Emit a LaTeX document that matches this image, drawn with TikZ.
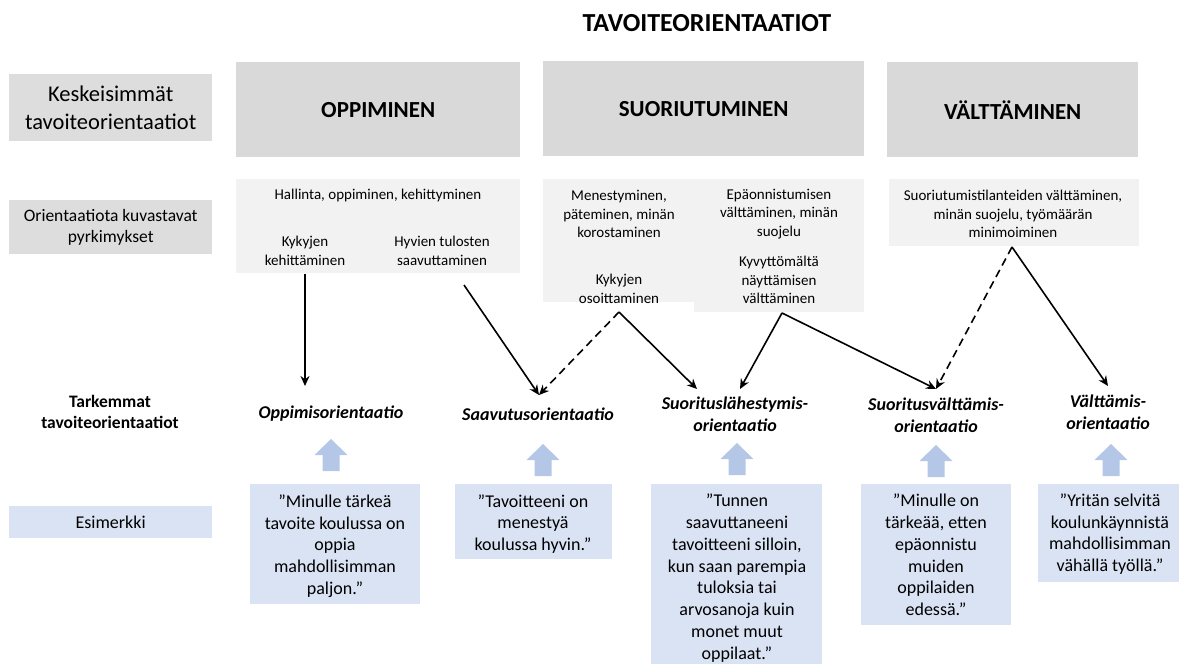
\documentclass[tikz,border=0pt]{standalone}
\usepackage{fontspec}
\setmainfont{Carlito}
\usetikzlibrary{arrows.meta}
\definecolor{hdrgray}{HTML}{D9D9D9}
\definecolor{lblgray}{HTML}{DDDDDD}
\definecolor{subgray}{HTML}{F2F2F2}
\definecolor{exblue}{HTML}{DAE3F3}
\definecolor{arrblue}{HTML}{B4C7E7}
\newcommand{\blockup}[2]{\fill[blockarr] (#1,#2) -- (#1+16.5,#2+16) -- (#1+8.5,#2+16) -- (#1+8.5,#2+32) -- (#1-8.5,#2+32) -- (#1-8.5,#2+16) -- (#1-16.5,#2+16) -- cycle;}
\begin{document}
\begin{tikzpicture}[x=1pt,y=-1pt,
  hdrbox/.style={fill=hdrgray, inner sep=0pt, anchor=north west, font=\bfseries\fontsize{23}{27}\selectfont},
  lblbox/.style={fill=lblgray, inner sep=0pt, anchor=north west, align=center},
  subbox/.style={fill=subgray, inner sep=0pt, anchor=north west},
  subtxt/.style={align=center, inner sep=0pt, font=\fontsize{15}{18.5}\selectfont},
  orient/.style={align=center, inner sep=0pt, font=\bfseries\itshape\fontsize{18}{21.5}\selectfont},
  exbox/.style={fill=exblue, inner sep=0pt, anchor=north west},
  extxt/.style={align=center, inner sep=0pt, font=\fontsize{18}{21.8}\selectfont},
  conn/.style={line width=1.6pt, -{Stealth[length=10pt,width=9pt]}},
  dconn/.style={conn, dash pattern=on 8pt off 5pt},
  blockarr/.style={fill=arrblue}
]
\useasboundingbox (0,0) rectangle (1179,664);

% title
\node[inner sep=0pt, font=\bfseries\fontsize{26}{30}\selectfont] (title) at (707,23) {TAVOITEORIENTAATIOT};

% left column
\node[lblbox, minimum width=203pt, minimum height=67pt, font=\fontsize{22.5}{27.5}\selectfont] (kesk) at (9,74) {Keskeisimmät\\tavoiteorientaatiot};
\node[lblbox, minimum width=203pt, minimum height=54pt, font=\fontsize{17.5}{21}\selectfont] (orientl) at (9,200) {Orientaatiota kuvastavat\\pyrkimykset};
\node[align=center, inner sep=0pt, font=\bfseries\fontsize{17.5}{21.5}\selectfont] (tark) at (110,412) {Tarkemmat\\tavoiteorientaatiot};
\node[exbox, minimum width=203pt, minimum height=32pt, font=\fontsize{18}{22}\selectfont] (esim) at (9,506) {Esimerkki};

% header boxes
\node[hdrbox, minimum width=284pt, minimum height=95pt] (opp) at (236,62) {OPPIMINEN};
\node[hdrbox, minimum width=321pt, minimum height=95pt] (suo) at (543,61) {SUORIUTUMINEN};
\node[hdrbox, minimum width=251pt, minimum height=95pt] (val) at (887,62) {VÄLTTÄMINEN};

% sub boxes
\node[subbox, minimum width=284pt, minimum height=94pt] (subopp) at (236,179) {};
\node[subbox, minimum width=151pt, minimum height=123pt] (subsuol) at (543,179) {};
\node[subbox, minimum width=170pt, minimum height=133pt] (subsuor) at (694,179) {};
\node[subbox, minimum width=250pt, minimum height=67pt] (subval) at (889,179) {};

\node[subtxt] (hal) at (378,195) {Hallinta, oppiminen, kehittyminen};
\node[subtxt] (kk) at (305,251) {Kykyjen\\kehittäminen};
\node[subtxt] (hy) at (442,251) {Hyvien tulosten\\saavuttaminen};
\node[subtxt] (men) at (619,214) {Menestyminen,\\päteminen, minän\\korostaminen};
\node[subtxt] (ko) at (619,289) {Kykyjen\\osoittaminen};
\node[subtxt] (epa) at (779,214) {Epäonnistumisen\\välttäminen, minän\\suojelu};
\node[subtxt] (ky) at (779,280) {Kyvyttömältä\\näyttämisen\\välttäminen};
\node[subtxt] (suot) at (1013,214) {Suoriutumistilanteiden välttäminen,\\minän suojelu, työmäärän\\minimoiminen};

% orientation labels
\node[orient] (oppo) at (331,414) {Oppimisorientaatio};
\node[orient] (saao) at (538,414) {Saavutusorientaatio};
\node[orient] (slo) at (735,414) {Suorituslähestymis-\\orientaatio};
\node[orient] (svo) at (936,415) {Suoritusvälttämis-\\orientaatio};
\node[orient] (vo) at (1108,412) {Välttämis-\\orientaatio};

% block arrows
\blockup{331}{439}
\blockup{543}{444}
\blockup{737}{443}
\blockup{936}{445}
\blockup{1111}{444}

% example boxes
\node[exbox, minimum width=170pt, minimum height=120pt] (ex1) at (250,484) {};
\node[exbox, minimum width=157pt, minimum height=75pt] (ex2) at (455,484) {};
\node[exbox, minimum width=171pt, minimum height=180pt] (ex3) at (651,484) {};
\node[exbox, minimum width=150pt, minimum height=141pt] (ex4) at (861,484) {};
\node[exbox, minimum width=141pt, minimum height=98pt] (ex5) at (1038,484) {};

\node[extxt] (ex1t) at (335,546) {”Minulle tärkeä\\tavoite koulussa on\\oppia\\mahdollisimman\\paljon.”};
\node[extxt] (ex2t) at (533,524) {”Tavoitteeni on\\menestyä\\koulussa hyvin.”};
\node[extxt] (ex3t) at (737,578) {”Tunnen\\saavuttaneeni\\tavoitteeni silloin,\\kun saan parempia\\tuloksia tai\\arvosanoja kuin\\monet muut\\oppilaat.”};
\node[extxt] (ex4t) at (936,555) {”Minulle on\\tärkeää, etten\\epäonnistu\\muiden\\oppilaiden\\edessä.”};
\node[extxt] (ex5t) at (1110,534) {”Yritän selvitä\\koulunkäynnistä\\mahdollisimman\\vähällä työllä.”};

% connector points
\coordinate (s-kk) at (305,274);
\coordinate (t-opp) at (305,386);
\coordinate (s-hy) at (464,285);
\coordinate (t-saa) at (539,395);
\coordinate (s-ko) at (619,312);
\coordinate (t-sl1) at (697,389);
\coordinate (s-ky) at (782,313);
\coordinate (t-sl2) at (740,389);
\coordinate (t-sv) at (936,389);
\coordinate (s-va) at (1012,247);
\coordinate (t-v) at (1108,386);

\draw[conn] (s-kk) -- (t-opp);
\draw[conn] (s-hy) -- (t-saa);
\draw[dconn] (s-ko) -- (t-saa);
\draw[conn] (s-ko) -- (t-sl1);
\draw[conn] (s-ky) -- (t-sl2);
\draw[conn] (s-ky) -- (t-sv);
\draw[dconn] (s-va) -- (t-sv);
\draw[conn] (s-va) -- (t-v);
\end{tikzpicture}
\end{document}
